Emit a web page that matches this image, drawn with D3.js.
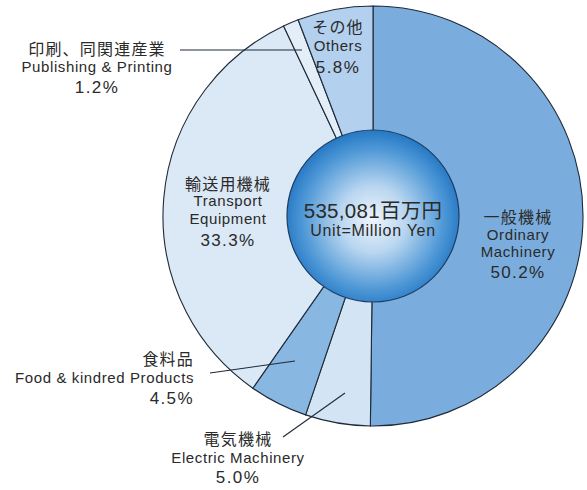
<!DOCTYPE html>
<html>
<head>
<meta charset="utf-8">
<script src="https://cdn.jsdelivr.net/npm/d3@7"></script>
<style>
  body { margin: 0; background: #fff; }
  svg { display: block; }
  text { font-family: "Liberation Sans", "Noto Sans CJK JP", sans-serif; fill: #2a2a2a; }
</style>
</head>
<body>
<svg id="svg" width="587" height="490"></svg>
<script>
// data, clockwise from 12 o'clock
let sectorsJa = ["一般機械", "電気機械", "食料品", "輸送用機械", "印刷、同関連産業", "その他"];
let sectorsEn = [["Ordinary", "Machinery"], ["Electric Machinery"], ["Food & kindred Products"], ["Transport", "Equipment"], ["Publishing & Printing"], ["Others"]];
let shares = [50.2, 5.0, 4.5, 33.3, 1.2, 5.8];
let colours = ["#7aaddd", "#d3e4f4", "#88b7e2", "#dbe8f5", "#e4eef8", "#b3d0ee"];
let totalLabel = "535,081百万円";
let unitLabel = "Unit=Million Yen";

let cx = 373, cy = 216, r = 210, rIn = 86;
let svg = d3.select("#svg");

let defs = svg.append("defs");
let grad = defs.append("radialGradient").attr("id", "ball").attr("cx", "50%").attr("cy", "52%").attr("r", "55%");
grad.append("stop").attr("offset", "0%").attr("stop-color", "#eef5fc");
grad.append("stop").attr("offset", "35%").attr("stop-color", "#b9d6f0");
grad.append("stop").attr("offset", "75%").attr("stop-color", "#4d97d6");
grad.append("stop").attr("offset", "100%").attr("stop-color", "#1a6fbf");

let pie = d3.pie().sort(null).value(d => d);
let arc = d3.arc().innerRadius(0).outerRadius(r);
let arcs = pie(shares);

let g = svg.append("g").attr("transform", "translate(" + cx + "," + cy + ")");
g.selectAll("path.slice").data(arcs).enter().append("path")
    .attr("class", "slice")
    .attr("d", arc)
    .attr("fill", (d, i) => colours[i])
    .attr("stroke", "#1e2a38")
    .attr("stroke-width", 1.1);

// leader lines (drawn over slices)
let leaders = [
    { x1: 180, y1: 50, x2: 302, y2: 50 },
    { x1: 210, y1: 373, x2: 295, y2: 361 },
    { x1: 283, y1: 437, x2: 345, y2: 393 }
];
svg.selectAll("line.leader").data(leaders).enter().append("line")
    .attr("x1", d => d.x1).attr("y1", d => d.y1)
    .attr("x2", d => d.x2).attr("y2", d => d.y2)
    .attr("stroke", "#1e2a38").attr("stroke-width", 1.1);

// centre ball
g.append("circle").attr("r", rIn).attr("fill", "url(#ball)").attr("stroke", "#1d3d63").attr("stroke-width", 1.2);
g.append("text").attr("x", 0).attr("y", 2).attr("text-anchor", "middle").style("font-size", "20.5px").style("letter-spacing", "0.3px").text(totalLabel);
g.append("text").attr("x", 0).attr("y", 20).attr("text-anchor", "middle").style("font-size", "16px").style("letter-spacing", "0.7px").text(unitLabel);

// label blocks: baselines of each line
let labelPos = [
    { x: 518, anchor: "middle", ys: [223, 240, 257, 278] },
    { x: 238, anchor: "middle", ys: [445, 463, 483] },
    { x: 194, anchor: "end", ys: [365, 383, 404] },
    { x: 228, anchor: "middle", ys: [190, 206, 224, 246] },
    { x: 97, anchor: "middle", ys: [55, 72, 93] },
    { x: 338, anchor: "middle", ys: [33, 51, 73] }
];

labelPos.forEach(function (p, i) {
    let lines = [{ t: sectorsJa[i], s: 16, ls: 1.2 }];
    sectorsEn[i].forEach(e => lines.push({ t: e, s: 15, ls: 0.6 }));
    lines.push({ t: shares[i].toFixed(1) + "%", s: 17, ls: 1.4 });
    lines.forEach(function (l, k) {
        svg.append("text").attr("x", p.x).attr("y", p.ys[k]).attr("text-anchor", p.anchor)
            .style("font-size", l.s + "px").style("letter-spacing", l.ls + "px").text(l.t);
    });
});
</script>
</body>
</html>
